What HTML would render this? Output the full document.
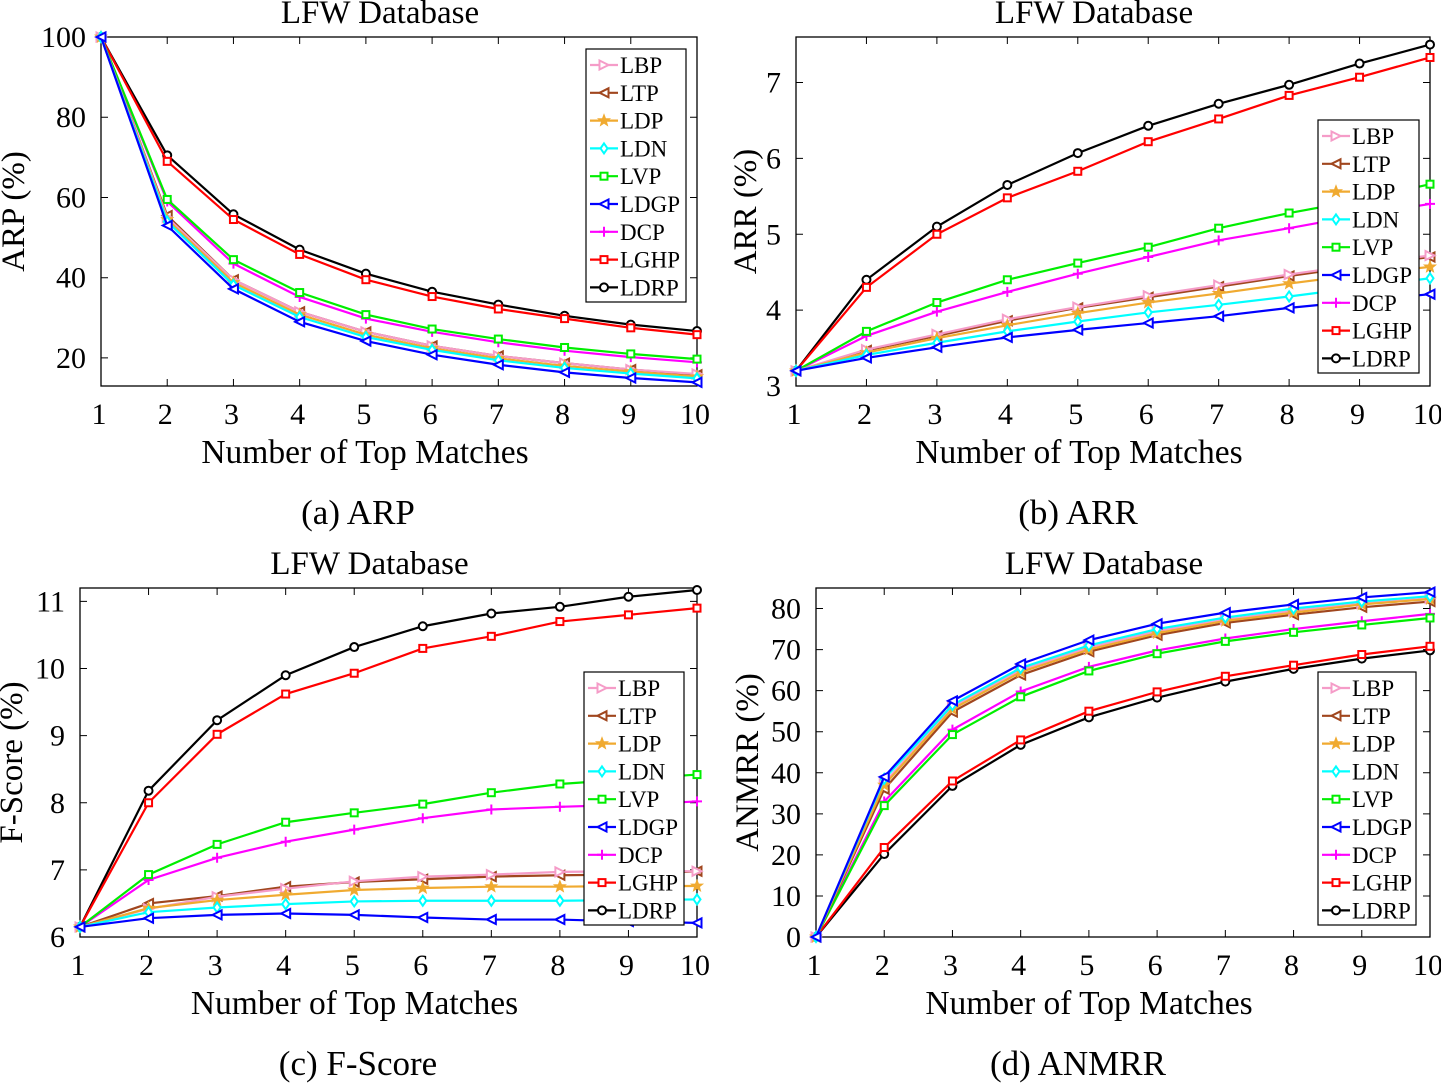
<!DOCTYPE html>
<html><head><meta charset="utf-8">
<style>
body{margin:0;background:#fff;}
svg{display:block;font-family:"Liberation Serif",serif;}
</style></head>
<body>
<svg id="fig" width="1441" height="1084" viewBox="0 0 1441 1084" xmlns="http://www.w3.org/2000/svg"></svg>
<script>
const xCats=[1,2,3,4,5,6,7,8,9,10];
const names=["LBP","LTP","LDP","LDN","LVP","LDGP","DCP","LGHP","LDRP"];
const colors=["#f59cc8","#a0461e","#f0aa30","#00ffff","#00ee00","#0000ff","#ff00ff","#ff0000","#000000"];
const markers=["tr","tl","star","dia","sq","tl","plus","sq","circ"];
// ARP
const arpLBP=[100,55,39.5,31.5,26.5,23,20.5,18.7,17.1,16];
const arpLTP=[100,55.5,39.5,31.5,26.5,23,20.5,18.7,17.1,15.8];
const arpLDP=[100,54.5,38.8,30.8,25.8,22.4,19.9,18,16.6,15.3];
const arpLDN=[100,54,38.2,30.2,25.2,22,19.4,17.5,16.1,14.9];
const arpLVP=[100,59.5,44.5,36.3,30.8,27.2,24.7,22.6,21,19.7];
const arpLDGP=[100,53,37.2,29,24.2,20.8,18.3,16.4,15,13.9];
const arpDCP=[100,59,43.5,35.2,29.8,26.5,23.9,21.8,20.2,18.9];
const arpLGHP=[100,69,54.5,45.8,39.5,35.3,32.2,29.8,27.5,25.8];
const arpLDRP=[100,70.5,55.8,47,41,36.5,33.3,30.5,28.3,26.7];
// ARR
const arrLBP=[3.2,3.48,3.68,3.88,4.04,4.19,4.33,4.47,4.6,4.72];
const arrLTP=[3.2,3.47,3.66,3.86,4.03,4.17,4.31,4.45,4.58,4.7];
const arrLDP=[3.2,3.44,3.63,3.8,3.96,4.1,4.22,4.35,4.47,4.57];
const arrLDN=[3.2,3.41,3.57,3.72,3.85,3.97,4.07,4.18,4.3,4.42];
const arrLVP=[3.2,3.72,4.1,4.4,4.62,4.83,5.08,5.28,5.45,5.66];
const arrLDGP=[3.2,3.37,3.51,3.64,3.74,3.83,3.92,4.03,4.12,4.21];
const arrDCP=[3.2,3.66,3.98,4.24,4.48,4.7,4.92,5.08,5.25,5.4];
const arrLGHP=[3.2,4.3,5.0,5.48,5.83,6.22,6.52,6.83,7.07,7.33];
const arrLDRP=[3.2,4.4,5.1,5.65,6.07,6.43,6.72,6.97,7.25,7.5];
// F-Score
const fLBP=[6.15,6.42,6.6,6.72,6.83,6.9,6.93,6.97,6.98,6.98];
const fLTP=[6.15,6.5,6.61,6.75,6.82,6.86,6.9,6.92,6.93,6.98];
const fLDP=[6.15,6.43,6.55,6.63,6.7,6.73,6.75,6.75,6.76,6.76];
const fLDN=[6.15,6.37,6.44,6.49,6.53,6.54,6.54,6.54,6.55,6.56];
const fLVP=[6.15,6.93,7.38,7.71,7.85,7.98,8.15,8.28,8.35,8.42];
const fLDGP=[6.15,6.28,6.33,6.35,6.33,6.29,6.26,6.26,6.23,6.21];
const fDCP=[6.15,6.85,7.18,7.42,7.6,7.77,7.9,7.94,7.97,8.02];
const fLGHP=[6.15,8.0,9.02,9.62,9.93,10.3,10.48,10.7,10.8,10.9];
const fLDRP=[6.15,8.18,9.23,9.9,10.32,10.63,10.82,10.92,11.07,11.17];
// ANMRR
const aLBP=[0,37.5,56,65,70.5,74.5,77.3,79.5,81.2,82.5];
const aLTP=[0,36,54.8,63.8,69.5,73.5,76.5,78.5,80.3,81.7];
const aLDP=[0,37,55.5,64.5,70,74,77,79,81,82.3];
const aLDN=[0,38.5,56.5,65.5,71,75,77.8,80,81.7,83];
const aLVP=[0,32,49.3,58.5,64.8,69,72,74.2,76,77.7];
const aLDGP=[0,39,57.5,66.5,72.3,76.3,79,81,82.7,84];
const aDCP=[0,33,50.5,59.8,65.8,69.8,72.7,75,76.9,78.7];
const aLGHP=[0,21.8,38,48,55,59.7,63.5,66.2,68.8,70.8];
const aLDRP=[0,20.2,36.8,46.8,53.5,58.3,62.2,65.3,67.8,69.8];
const arpTicks=[20,40,60,80,100];
const arrTicks=[3,4,5,6,7];
const fTicks=[6,7,8,9,10,11];
const aTicks=[0,10,20,30,40,50,60,70,80];

const NS="http://www.w3.org/2000/svg";
const svg=document.getElementById("fig");
function el(tag,attrs,parent){const e=document.createElementNS(NS,tag);for(const k in attrs)e.setAttribute(k,attrs[k]);(parent||svg).appendChild(e);return e;}
function txt(s,x,y,size,anchor,parent,extra){const t=el("text",Object.assign({x:x,y:y,"font-size":size,"text-anchor":anchor||"middle"},extra||{}),parent);t.textContent=s;return t;}
function marker(g,type,x,y,c){
  const s=4.5;let m;
  if(type==="circ")m=el("circle",{cx:x,cy:y,r:4,fill:"#fff",stroke:c,"stroke-width":2},g);
  else if(type==="sq")m=el("rect",{x:x-3.5,y:y-3.5,width:7,height:7,fill:"#fff",stroke:c,"stroke-width":2},g);
  else if(type==="tl")m=el("polygon",{points:`${x-s},${y} ${x+s},${y-s} ${x+s},${y+s}`,fill:"#fff",stroke:c,"stroke-width":2},g);
  else if(type==="tr")m=el("polygon",{points:`${x+s},${y} ${x-s},${y-s} ${x-s},${y+s}`,fill:"#fff",stroke:c,"stroke-width":2},g);
  else if(type==="dia")m=el("polygon",{points:`${x},${y-5} ${x+3.5},${y} ${x},${y+5} ${x-3.5},${y}`,fill:"#fff",stroke:c,"stroke-width":2},g);
  else if(type==="plus")m=el("path",{d:`M${x-5},${y}H${x+5}M${x},${y-5}V${y+5}`,stroke:c,"stroke-width":2},g);
  else{let p=[];for(let i=0;i<10;i++){const r=i%2?2.5:6,a=-Math.PI/2+i*Math.PI/5;p.push((x+r*Math.cos(a)).toFixed(1)+","+(y+r*Math.sin(a)).toFixed(1));}
    m=el("polygon",{points:p.join(" "),fill:c,stroke:c,"stroke-width":1},g);}
  return m;
}
function chart(o){
  const g=el("g",{});
  
  
  const X=v=>o.L+(v-1)/9*(o.R-o.L);
  const Y=v=>o.B-(v-o.ymin)/(o.ymax-o.ymin)*(o.B-o.T);
  const cx=(o.L+o.R)/2;
  el("rect",{x:o.L,y:o.T,width:o.R-o.L,height:o.B-o.T,fill:"none",stroke:"#000","stroke-width":1.3},g);
  xCats.forEach(v=>{const x=X(v);
    el("path",{d:`M${x},${o.B}V${o.B-7}M${x},${o.T}V${o.T+7}`,stroke:"#000","stroke-width":1},g);
    const t=txt(String(v),x-2,o.B+38,30,"middle",g);
    
    });
  o.ticks.forEach(v=>{const y=Y(v);
    el("path",{d:`M${o.L},${y}H${o.L+7}M${o.R},${y}H${o.R-7}`,stroke:"#000","stroke-width":1},g);
    const t=txt(String(v),o.L-15,y+10,30,"end",g);
    
    });
  const order=[8,7,6,4,1,0,2,3,5];
  order.forEach(i=>{const data=o.series[i];
    const sg=el("g",{},g);
    
    
    el("polyline",{points:data.map((v,k)=>X(xCats[k])+","+Y(v)).join(" "),fill:"none",stroke:colors[i],"stroke-width":2.2},sg);
    data.forEach((v,k)=>marker(sg,markers[i],X(xCats[k]),Y(v),colors[i]));
  });
  const title=txt("LFW Database",cx-19,o.T-14,33,"middle",g);
  
  
  const xt=txt("Number of Top Matches",cx-34,o.B+77,33.5,"middle",g);
  
  
  const yt=txt(o.ytitle,0,0,33,"middle",g,{transform:`translate(${o.ytx},${(o.T+o.B)/2}) rotate(-90)`});
  
  
  const cap=txt(o.cap,o.capx,o.B+138,35,"middle",g);
  
  
  const lg=el("g",{},g);
  
  
  el("rect",{x:o.lx,y:o.ly,width:o.lw,height:253,fill:"#fff",stroke:"#000","stroke-width":1.2},lg);
  names.forEach((n,i)=>{const y=o.ly+16+i*27.8;
    const eg=el("g",{},lg);
    
    
    el("path",{d:`M${o.lx+4},${y}H${o.lx+32}`,stroke:colors[i],"stroke-width":2.2},eg);
    marker(eg,markers[i],o.lx+18,y,colors[i]);
    txt(n,o.lx+34,y+8,23,"start",eg);});
}
chart({name:"arp-chart",L:101,R:697,T:37,B:386,ymin:13,ymax:100,ticks:arpTicks,
  series:[arpLBP,arpLTP,arpLDP,arpLDN,arpLVP,arpLDGP,arpDCP,arpLGHP,arpLDRP],
  ytitle:"ARP (%)",ytx:24,cap:"(a)  ARP",capx:358,lx:586,ly:49,lw:100});
chart({name:"arr-chart",L:796,R:1430,T:37,B:386,ymin:3,ymax:7.6,ticks:arrTicks,
  series:[arrLBP,arrLTP,arrLDP,arrLDN,arrLVP,arrLDGP,arrDCP,arrLGHP,arrLDRP],
  ytitle:"ARR (%)",ytx:756,cap:"(b)  ARR",capx:1078,lx:1318,ly:120,lw:101});
chart({name:"fscore-chart",L:80,R:697,T:588,B:937,ymin:6,ymax:11.2,ticks:fTicks,
  series:[fLBP,fLTP,fLDP,fLDN,fLVP,fLDGP,fDCP,fLGHP,fLDRP],
  ytitle:"F-Score (%)",ytx:22,cap:"(c)  F-Score",capx:358,lx:584,ly:672,lw:100});
chart({name:"anmrr-chart",L:816,R:1430,T:588,B:937,ymin:0,ymax:85,ticks:aTicks,
  series:[aLBP,aLTP,aLDP,aLDN,aLVP,aLDGP,aDCP,aLGHP,aLDRP],
  ytitle:"ANMRR (%)",ytx:758,cap:"(d)  ANMRR",capx:1078,lx:1318,ly:672,lw:98});
</script>
</body></html>
